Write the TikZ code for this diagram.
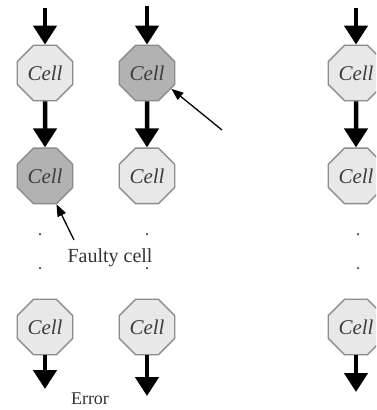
\documentclass[tikz,border=0pt]{standalone}
\usepackage{fontspec}
\setmainfont{Liberation Serif}
\usepackage{tikz}
\usetikzlibrary{shapes.geometric, arrows.meta, positioning}

\definecolor{cellok}{RGB}{232,232,232}
\definecolor{cellbad}{RGB}{178,178,178}
\definecolor{cellrim}{RGB}{140,140,140}
\definecolor{celltext}{RGB}{60,60,60}

\begin{document}
\begin{tikzpicture}[x=1pt, y=-1pt, node distance=46pt,
    cell/.style={regular polygon, regular polygon sides=8, minimum size=60pt, inner sep=0pt,
                 draw=cellrim, line width=1.4pt, fill=cellok, text=celltext,
                 font=\fontsize{21}{24}\selectfont\itshape},
    faulty/.style={cell, fill=cellbad},
    flow/.style={line width=4.5pt, -{Triangle[length=19pt, width=23pt]}},
    pointer/.style={line width=1.3pt, -{Triangle[length=12pt, width=9pt]}},
    label/.style={font=\fontsize{20}{24}\selectfont, text=black!80, inner sep=0pt}]

    \clip (0,0) rectangle (376,410);

    % Nodes
    \node (c11) [cell] at (45,73) {Cell};
    \node (c12) [faulty] at (147,73) {Cell};
    \node (c13) [cell] at (356,73) {Cell};
    \node (c21) [faulty, below=of c11] {Cell};
    \node (c22) [cell, below=of c12] {Cell};
    \node (c23) [cell, below=of c13] {Cell};
    \node (c31) [cell] at (45,327) {Cell};
    \node (c32) [cell] at (147,327) {Cell};
    \node (c33) [cell] at (356,327) {Cell};

    \node (faultlbl) [label] at (110,258) {Faulty cell};
    \node (errlbl) [label, font=\fontsize{18}{20}\selectfont, anchor=base] at (90,404) {Error};

    % Free ends
    \coordinate (t1) at (45,8);
    \coordinate (t2) at (147,6);
    \coordinate (t3) at (356,8);
    \coordinate (b1) at (45,389);
    \coordinate (b2) at (147,396);
    \coordinate (b3) at (356,392);
    \coordinate (p1) at (222,130);
    \coordinate (p2) at (74,240);

    % Edges
    \foreach \col in {1,2,3} {
        \draw[flow] (t\col) -- (c1\col);
        \draw[flow] (c1\col) -- (c2\col);
        \draw[flow] (c3\col) -- (b\col);
    }
    \draw[pointer] (p1) -- (c12.-33);
    \draw[pointer] (p2) -- (c21.-68);

    % Dots
    \foreach \x in {40,147,358} {
        \fill (\x,234) circle (1pt);
        \fill (\x,268) circle (1pt);
    }
\end{tikzpicture}
\end{document}
